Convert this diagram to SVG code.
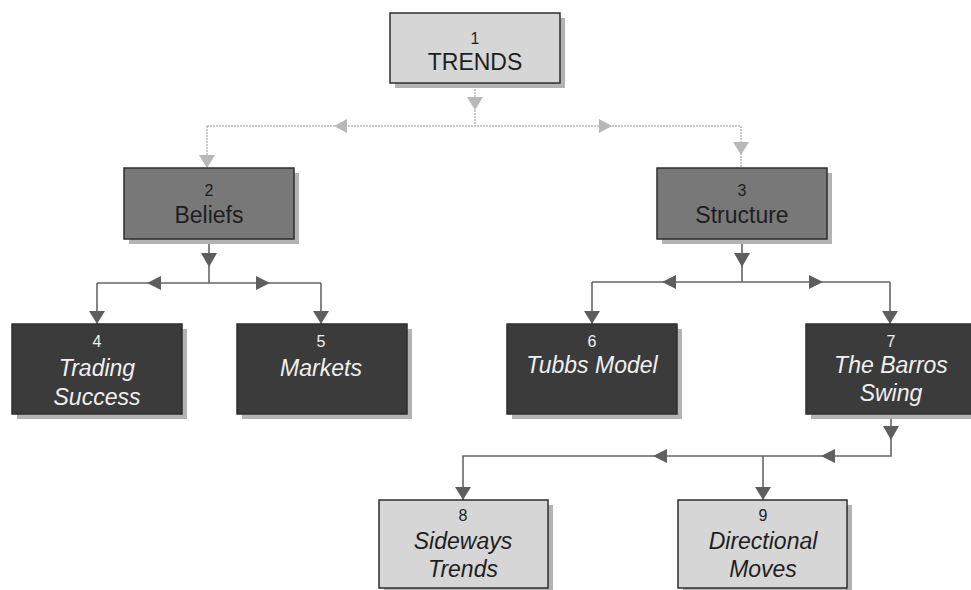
<svg xmlns="http://www.w3.org/2000/svg" width="971" height="590" viewBox="0 0 971 590">
<style>
text{font-family:"Liberation Sans",Arial,sans-serif;text-anchor:middle}
.num{font-size:16px}
.lbl{font-size:23px}
.it{font-style:italic}
.shadow{fill:#b3b3b3}
.box{stroke:#2e2e2e;stroke-width:1.5}
.light{fill:#d6d6d6}
.mid{fill:#787878}
.dark{fill:#3b3b3b}
.tdark{fill:#1e1e1e}
.tlight{fill:#f0f0f0}
.line{fill:none;stroke:#666;stroke-width:1.6}
.lineL{fill:none;stroke:#bdbdbd;stroke-width:1.6;stroke-dasharray:2 1}
.ah{fill:#5e5e5e}
.ahL{fill:#b8b8b8}
</style>
<g id="connectors">
<path class="lineL" d="M475,83 V126 M207,126 H741 M207,126 V168 M741,126 V168"/>
<polygon class="ahL" points="467,97 483,97 475,110"/>
<polygon class="ahL" points="347,119 347,133 334,126"/>
<polygon class="ahL" points="599,119 599,133 612,126"/>
<polygon class="ahL" points="199,155 215,155 207,168"/>
<polygon class="ahL" points="733,142 749,142 741,155"/>
<path class="line" d="M209,239 V283 M97,283 H321 M97,283 V324 M321,283 V324"/>
<polygon class="ah" points="201,253 217,253 209,267"/>
<polygon class="ah" points="161,276 161,290 147,283"/>
<polygon class="ah" points="256,276 256,290 270,283"/>
<polygon class="ah" points="89,311 105,311 97,324"/>
<polygon class="ah" points="313,311 329,311 321,324"/>
<path class="line" d="M742,239 V282 M592,282 H890 M592,282 V324 M890,282 V324"/>
<polygon class="ah" points="734,253 750,253 742,267"/>
<polygon class="ah" points="676,275 676,289 662,282"/>
<polygon class="ah" points="809,275 809,289 823,282"/>
<polygon class="ah" points="584,311 600,311 592,324"/>
<polygon class="ah" points="882,311 898,311 890,324"/>
<path class="line" d="M891,416 V456 H463 V500 M763,456 V500"/>
<polygon class="ah" points="883,426 899,426 891,440"/>
<polygon class="ah" points="835,449 835,463 821,456"/>
<polygon class="ah" points="667,449 667,463 653,456"/>
<polygon class="ah" points="455,487 471,487 463,500"/>
<polygon class="ah" points="755,487 771,487 763,500"/>
</g>
<g id="node1">
<rect class="shadow" x="395" y="18" width="170" height="70"/>
<rect class="box light" x="390" y="13" width="170" height="70"/>
<text class="num tdark" x="475" y="44">1</text>
<text class="lbl tdark" x="475" y="70">TRENDS</text>
</g>
<g id="node2">
<rect class="shadow" x="129" y="173" width="170" height="71"/>
<rect class="box mid" x="124" y="168" width="170" height="71"/>
<text class="num tdark" x="209" y="196">2</text>
<text class="lbl tdark" x="209" y="223">Beliefs</text>
</g>
<g id="node3">
<rect class="shadow" x="662" y="173" width="170" height="71"/>
<rect class="box mid" x="657" y="168" width="170" height="71"/>
<text class="num tdark" x="742" y="196">3</text>
<text class="lbl tdark" x="742" y="223">Structure</text>
</g>
<g id="node4">
<rect class="shadow" x="17" y="329" width="170" height="90"/>
<rect class="box dark" x="12" y="324" width="170" height="90"/>
<text class="num tlight" x="97" y="347">4</text>
<text class="lbl it tlight" x="97" y="376">Trading</text>
<text class="lbl it tlight" x="97" y="405">Success</text>
</g>
<g id="node5">
<rect class="shadow" x="242" y="329" width="170" height="90"/>
<rect class="box dark" x="237" y="324" width="170" height="90"/>
<text class="num tlight" x="321" y="347">5</text>
<text class="lbl it tlight" x="321" y="376">Markets</text>
</g>
<g id="node6">
<rect class="shadow" x="512" y="329" width="170" height="90"/>
<rect class="box dark" x="507" y="324" width="170" height="90"/>
<text class="num tlight" x="592" y="347">6</text>
<text class="lbl it tlight" x="592" y="373">Tubbs Model</text>
</g>
<g id="node7">
<rect class="shadow" x="811" y="329" width="170" height="90"/>
<rect class="box dark" x="806" y="324" width="170" height="90"/>
<text class="num tlight" x="891" y="347">7</text>
<text class="lbl it tlight" x="891" y="373">The Barros</text>
<text class="lbl it tlight" x="891" y="401">Swing</text>
</g>
<g id="node8">
<rect class="shadow" x="384" y="505" width="169" height="88"/>
<rect class="box light" x="379" y="500" width="169" height="88"/>
<text class="num tdark" x="463" y="521">8</text>
<text class="lbl it tdark" x="463" y="549">Sideways</text>
<text class="lbl it tdark" x="463" y="577">Trends</text>
</g>
<g id="node9">
<rect class="shadow" x="683" y="505" width="169" height="88"/>
<rect class="box light" x="678" y="500" width="169" height="88"/>
<text class="num tdark" x="763" y="521">9</text>
<text class="lbl it tdark" x="763" y="549">Directional</text>
<text class="lbl it tdark" x="763" y="577">Moves</text>
</g>
</svg>
